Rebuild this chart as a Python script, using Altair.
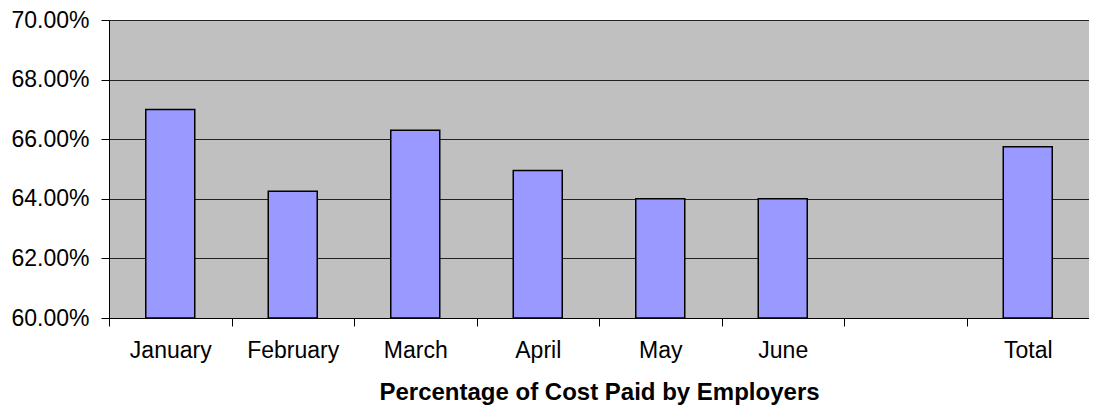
import altair as alt
import pandas as pd

categories = ["January", "February", "March", "April", "May", "June", " ", "Total"]
values = [0.670, 0.6425, 0.663, 0.6495, 0.640, 0.640, None, 0.6575]
y_ticks = [0.60, 0.62, 0.64, 0.66, 0.68, 0.70]

df = pd.DataFrame({"category": categories, "value": values})
df = df.dropna()

FONT = "Liberation Sans"

chart = (
    alt.Chart(df)
    .mark_bar(
        width=alt.RelativeBandSize(0.40),
        color="#9999FF",
        stroke="#000000",
        strokeWidth=1.5,
    )
    .encode(
        x=alt.X(
            "category:N",
            sort=categories,
            scale=alt.Scale(domain=categories, paddingInner=0, paddingOuter=0),
            axis=alt.Axis(
                title="Percentage of Cost Paid by Employers",
                labelAngle=0,
                tickBand="extent",
                tickSize=8,
                tickColor="#000000",
                domainColor="#000000",
                domainWidth=1,
                labelFont=FONT,
                labelFontSize=23,
                labelColor="#000000",
                labelPadding=13,
                titleFont=FONT,
                titleFontSize=24,
                titleFontWeight="bold",
                titleColor="#000000",
                titlePadding=18,
                grid=False,
            ),
        ),
        y=alt.Y(
            "value:Q",
            scale=alt.Scale(domain=[0.60, 0.70], zero=False, nice=False),
            axis=alt.Axis(
                title=None,
                values=y_ticks,
                format=".2%",
                tickSize=8,
                tickColor="#000000",
                domainColor="#000000",
                domainWidth=1,
                labelFont=FONT,
                labelFontSize=23,
                labelColor="#000000",
                labelPadding=12,
                grid=True,
                gridColor="#222222",
                gridWidth=1,
                gridOpacity=1,
            ),
        ),
        y2=alt.datum(0.60),
    )
    .properties(
        width=980,
        height=298,
        background="#FFFFFF",
        autosize=alt.AutoSizeParams(type="none"),
        padding={"left": 101, "top": 12, "right": 0, "bottom": 92},
    )
    .configure_view(fill="#C0C0C0", stroke=None)
)

chart.save("out.html", embed_options={"renderer": "svg", "actions": False})
